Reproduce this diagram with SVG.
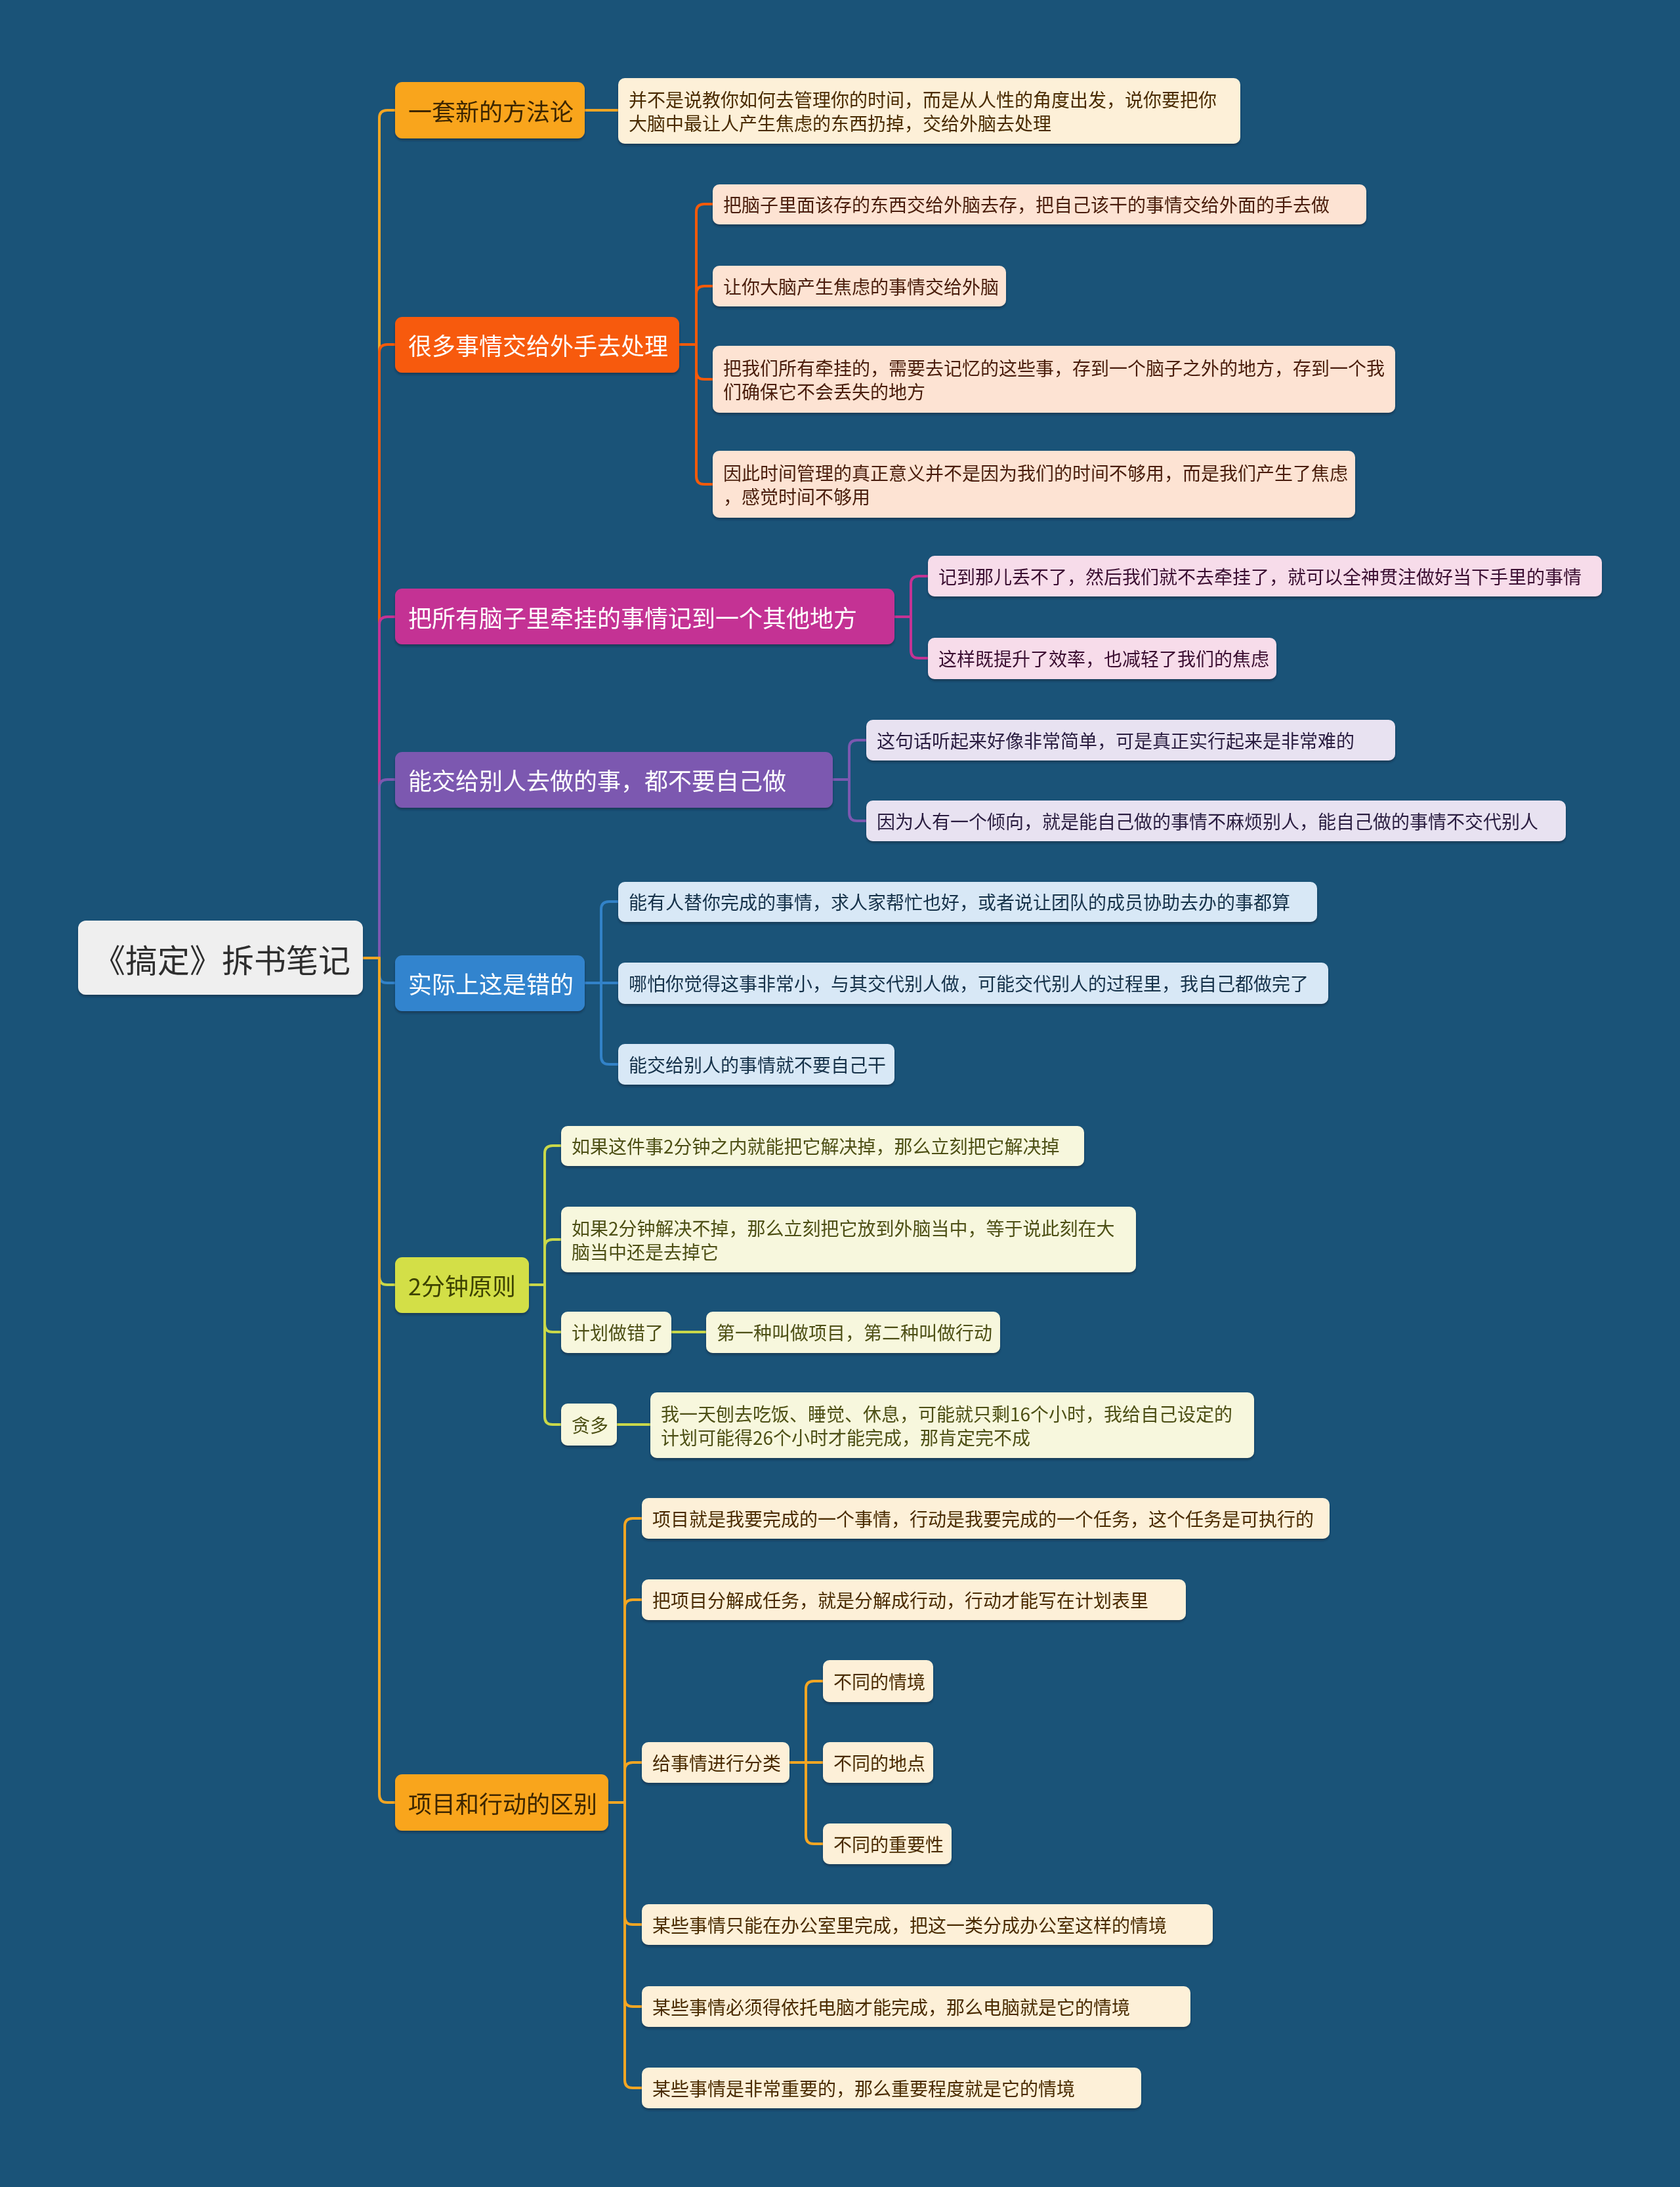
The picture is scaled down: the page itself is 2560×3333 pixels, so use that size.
<svg xmlns="http://www.w3.org/2000/svg" width="2560" height="3333" viewBox="0 0 2560 3333">
<style>
text{font-family:"Noto Sans CJK SC","Noto Sans",sans-serif;dominant-baseline:central}
.t1{font-size:36px}
.t2{font-size:28px}
.c{fill:none;stroke-width:4;stroke-linecap:round;stroke-linejoin:round}
.n{filter:url(#sh)}
</style>
<defs>
<filter id="sh" x="-5%" y="-20%" width="110%" height="150%">
<feDropShadow dx="0" dy="3" stdDeviation="1.5" flood-color="#0b2a40" flood-opacity="0.55"/>
</filter>
</defs>
<rect x="0" y="0" width="2560" height="3333" fill="#1a5378"/>

<g id="connectors">
<path class="c" stroke="#f5a623" d="M553 1460 H578 V180 Q578 168 590 168 H602"/>
<path class="c" stroke="#f55a0a" d="M553 1460 H578 V537 Q578 525 590 525 H602"/>
<path class="c" stroke="#c43394" d="M553 1460 H578 V952 Q578 940 590 940 H602"/>
<path class="c" stroke="#7b58b0" d="M553 1460 H578 V1200 Q578 1188 590 1188 H602"/>
<path class="c" stroke="#3282c8" d="M553 1460 H578 V1486 Q578 1498 590 1498 H602"/>
<path class="c" stroke="#c9d84a" d="M553 1460 H578 V1946 Q578 1958 590 1958 H602"/>
<path class="c" stroke="#f5a623" d="M553 1460 H578 V2735 Q578 2747 590 2747 H602"/>

<path class="c" stroke="#f5a623" d="M891 168 H942"/>

<path class="c" stroke="#f55a0a" d="M1035 525 H1061 V323 Q1061 311 1073 311 H1086"/>
<path class="c" stroke="#f55a0a" d="M1035 525 H1061 V448 Q1061 436 1073 436 H1086"/>
<path class="c" stroke="#f55a0a" d="M1035 525 H1061 V566 Q1061 578 1073 578 H1086"/>
<path class="c" stroke="#f55a0a" d="M1035 525 H1061 V726 Q1061 738 1073 738 H1086"/>

<path class="c" stroke="#c43394" d="M1363 940 H1388 V890 Q1388 878 1400 878 H1414"/>
<path class="c" stroke="#c43394" d="M1363 940 H1388 V991 Q1388 1003 1400 1003 H1414"/>

<path class="c" stroke="#7b58b0" d="M1269 1188 H1294 V1140 Q1294 1128 1306 1128 H1320"/>
<path class="c" stroke="#7b58b0" d="M1269 1188 H1294 V1239 Q1294 1251 1306 1251 H1320"/>

<path class="c" stroke="#3282c8" d="M891 1498 H916 V1386 Q916 1374 928 1374 H942"/>
<path class="c" stroke="#3282c8" d="M891 1498 H942"/>
<path class="c" stroke="#3282c8" d="M891 1498 H916 V1610 Q916 1622 928 1622 H942"/>

<path class="c" stroke="#c9d84a" d="M806 1958 H830 V1758 Q830 1746 842 1746 H855"/>
<path class="c" stroke="#c9d84a" d="M806 1958 H830 V1901 Q830 1889 842 1889 H855"/>
<path class="c" stroke="#c9d84a" d="M806 1958 H830 V2018 Q830 2030 842 2030 H855"/>
<path class="c" stroke="#c9d84a" d="M806 1958 H830 V2159 Q830 2171 842 2171 H855"/>
<path class="c" stroke="#c9d84a" d="M1023 2030 H1076"/>
<path class="c" stroke="#c9d84a" d="M940 2171 H991"/>

<path class="c" stroke="#f5a623" d="M927 2747 H952 V2326 Q952 2314 964 2314 H978"/>
<path class="c" stroke="#f5a623" d="M927 2747 H952 V2450 Q952 2438 964 2438 H978"/>
<path class="c" stroke="#f5a623" d="M927 2747 H952 V2698 Q952 2686 964 2686 H978"/>
<path class="c" stroke="#f5a623" d="M927 2747 H952 V2921 Q952 2933 964 2933 H978"/>
<path class="c" stroke="#f5a623" d="M927 2747 H952 V3046 Q952 3058 964 3058 H978"/>
<path class="c" stroke="#f5a623" d="M927 2747 H952 V3170 Q952 3182 964 3182 H978"/>
<path class="c" stroke="#f5a623" d="M1203 2686 H1228 V2574 Q1228 2562 1240 2562 H1254"/>
<path class="c" stroke="#f5a623" d="M1203 2686 H1254"/>
<path class="c" stroke="#f5a623" d="M1203 2686 H1228 V2798 Q1228 2810 1240 2810 H1254"/>
</g>

<g id="root" class="n"><rect x="119" y="1403" width="434" height="113" rx="12" fill="#efefef"/><text x="338" y="1460" font-size="49" fill="#2e2e2e" text-anchor="middle">《搞定》拆书笔记</text></g>

<g id="b1" class="n"><rect x="602" y="125" width="289" height="86" rx="11" fill="#f9a51e"/><text class="t1" x="622" y="168" fill="#3d2600">一套新的方法论</text></g>
<g id="b2" class="n"><rect x="602" y="483" width="433" height="85" rx="11" fill="#f75a0b"/><text class="t1" x="622" y="525" fill="#ffffff">很多事情交给外手去处理</text></g>
<g id="b3" class="n"><rect x="602" y="897" width="761" height="85" rx="11" fill="#c43394"/><text class="t1" x="622" y="940" fill="#ffffff">把所有脑子里牵挂的事情记到一个其他地方</text></g>
<g id="b4" class="n"><rect x="602" y="1146" width="667" height="85" rx="11" fill="#7b58b0"/><text class="t1" x="622" y="1188" fill="#ffffff">能交给别人去做的事，都不要自己做</text></g>
<g id="b5" class="n"><rect x="602" y="1456" width="289" height="85" rx="11" fill="#3384ce"/><text class="t1" x="622" y="1498" fill="#ffffff">实际上这是错的</text></g>
<g id="b6" class="n"><rect x="602" y="1916" width="204" height="85" rx="11" fill="#d3df47"/><text class="t1" x="622" y="1958" fill="#3c4200">2分钟原则</text></g>
<g id="b7" class="n"><rect x="602" y="2704" width="325" height="86" rx="11" fill="#f9a51e"/><text class="t1" x="622" y="2747" fill="#3d2600">项目和行动的区别</text></g>

<g id="b1a" class="n"><rect x="942" y="119" width="948" height="100" rx="10" fill="#fdf0d8"/><text class="t2" x="958" y="151" fill="#4a2c00">并不是说教你如何去管理你的时间，而是从人性的角度出发，说你要把你</text><text class="t2" x="958" y="187" fill="#4a2c00">大脑中最让人产生焦虑的东西扔掉，交给外脑去处理</text></g>

<g id="b2a" class="n"><rect x="1086" y="281" width="996" height="61" rx="10" fill="#fde3d3"/><text class="t2" x="1102" y="311" fill="#4a1e08">把脑子里面该存的东西交给外脑去存，把自己该干的事情交给外面的手去做</text></g>
<g id="b2b" class="n"><rect x="1086" y="405" width="447" height="62" rx="10" fill="#fde3d3"/><text class="t2" x="1102" y="436" fill="#4a1e08">让你大脑产生焦虑的事情交给外脑</text></g>
<g id="b2c" class="n"><rect x="1086" y="527" width="1040" height="102" rx="10" fill="#fde3d3"/><text class="t2" x="1102" y="560" fill="#4a1e08">把我们所有牵挂的，需要去记忆的这些事，存到一个脑子之外的地方，存到一个我</text><text class="t2" x="1102" y="596" fill="#4a1e08">们确保它不会丢失的地方</text></g>
<g id="b2d" class="n"><rect x="1086" y="687" width="979" height="102" rx="10" fill="#fde3d3"/><text class="t2" x="1102" y="720" fill="#4a1e08">因此时间管理的真正意义并不是因为我们的时间不够用，而是我们产生了焦虑</text><text class="t2" x="1102" y="756" fill="#4a1e08">，感觉时间不够用</text></g>

<g id="b3a" class="n"><rect x="1414" y="847" width="1027" height="62" rx="10" fill="#f7dcea"/><text class="t2" x="1430" y="878" fill="#3a1030">记到那儿丢不了，然后我们就不去牵挂了，就可以全神贯注做好当下手里的事情</text></g>
<g id="b3b" class="n"><rect x="1414" y="972" width="531" height="63" rx="10" fill="#f7dcea"/><text class="t2" x="1430" y="1003" fill="#3a1030">这样既提升了效率，也减轻了我们的焦虑</text></g>

<g id="b4a" class="n"><rect x="1320" y="1097" width="806" height="62" rx="10" fill="#e8e2f1"/><text class="t2" x="1336" y="1128" fill="#2a1f40">这句话听起来好像非常简单，可是真正实行起来是非常难的</text></g>
<g id="b4b" class="n"><rect x="1320" y="1220" width="1066" height="62" rx="10" fill="#e8e2f1"/><text class="t2" x="1336" y="1251" fill="#2a1f40">因为人有一个倾向，就是能自己做的事情不麻烦别人，能自己做的事情不交代别人</text></g>

<g id="b5a" class="n"><rect x="942" y="1344" width="1065" height="61" rx="10" fill="#d8e8f6"/><text class="t2" x="958" y="1374" fill="#13304a">能有人替你完成的事情，求人家帮忙也好，或者说让团队的成员协助去办的事都算</text></g>
<g id="b5b" class="n"><rect x="942" y="1467" width="1082" height="63" rx="10" fill="#d8e8f6"/><text class="t2" x="958" y="1498" fill="#13304a">哪怕你觉得这事非常小，与其交代别人做，可能交代别人的过程里，我自己都做完了</text></g>
<g id="b5c" class="n"><rect x="942" y="1591" width="421" height="62" rx="10" fill="#d8e8f6"/><text class="t2" x="958" y="1622" fill="#13304a">能交给别人的事情就不要自己干</text></g>

<g id="b6a" class="n"><rect x="855" y="1716" width="797" height="61" rx="10" fill="#f7f7dd"/><text class="t2" x="871" y="1746" fill="#4d5012">如果这件事2分钟之内就能把它解决掉，那么立刻把它解决掉</text></g>
<g id="b6b" class="n"><rect x="855" y="1839" width="876" height="100" rx="10" fill="#f7f7dd"/><text class="t2" x="871" y="1871" fill="#4d5012">如果2分钟解决不掉，那么立刻把它放到外脑当中，等于说此刻在大</text><text class="t2" x="871" y="1907" fill="#4d5012">脑当中还是去掉它</text></g>
<g id="b6c" class="n"><rect x="855" y="1999" width="168" height="63" rx="10" fill="#f7f7dd"/><text class="t2" x="871" y="2030" fill="#4d5012">计划做错了</text></g>
<g id="b6c1" class="n"><rect x="1076" y="1999" width="448" height="63" rx="10" fill="#f7f7dd"/><text class="t2" x="1092" y="2030" fill="#4d5012">第一种叫做项目，第二种叫做行动</text></g>
<g id="b6d" class="n"><rect x="855" y="2139" width="85" height="64" rx="10" fill="#f7f7dd"/><text class="t2" x="871" y="2171" fill="#4d5012">贪多</text></g>
<g id="b6d1" class="n"><rect x="991" y="2122" width="920" height="100" rx="10" fill="#f7f7dd"/><text class="t2" x="1007" y="2154" fill="#4d5012">我一天刨去吃饭、睡觉、休息，可能就只剩16个小时，我给自己设定的</text><text class="t2" x="1007" y="2190" fill="#4d5012">计划可能得26个小时才能完成，那肯定完不成</text></g>

<g id="b7a" class="n"><rect x="978" y="2283" width="1048" height="62" rx="10" fill="#fdf0d8"/><text class="t2" x="994" y="2314" fill="#4a2c00">项目就是我要完成的一个事情，行动是我要完成的一个任务，这个任务是可执行的</text></g>
<g id="b7b" class="n"><rect x="978" y="2407" width="829" height="62" rx="10" fill="#fdf0d8"/><text class="t2" x="994" y="2438" fill="#4a2c00">把项目分解成任务，就是分解成行动，行动才能写在计划表里</text></g>
<g id="b7c" class="n"><rect x="978" y="2655" width="225" height="62" rx="10" fill="#fdf0d8"/><text class="t2" x="994" y="2686" fill="#4a2c00">给事情进行分类</text></g>
<g id="b7c1" class="n"><rect x="1254" y="2530" width="168" height="64" rx="10" fill="#fdf0d8"/><text class="t2" x="1270" y="2562" fill="#4a2c00">不同的情境</text></g>
<g id="b7c2" class="n"><rect x="1254" y="2655" width="168" height="62" rx="10" fill="#fdf0d8"/><text class="t2" x="1270" y="2686" fill="#4a2c00">不同的地点</text></g>
<g id="b7c3" class="n"><rect x="1254" y="2779" width="196" height="62" rx="10" fill="#fdf0d8"/><text class="t2" x="1270" y="2810" fill="#4a2c00">不同的重要性</text></g>
<g id="b7d" class="n"><rect x="978" y="2902" width="870" height="62" rx="10" fill="#fdf0d8"/><text class="t2" x="994" y="2933" fill="#4a2c00">某些事情只能在办公室里完成，把这一类分成办公室这样的情境</text></g>
<g id="b7e" class="n"><rect x="978" y="3027" width="836" height="62" rx="10" fill="#fdf0d8"/><text class="t2" x="994" y="3058" fill="#4a2c00">某些事情必须得依托电脑才能完成，那么电脑就是它的情境</text></g>
<g id="b7f" class="n"><rect x="978" y="3151" width="761" height="62" rx="10" fill="#fdf0d8"/><text class="t2" x="994" y="3182" fill="#4a2c00">某些事情是非常重要的，那么重要程度就是它的情境</text></g>
</svg>
